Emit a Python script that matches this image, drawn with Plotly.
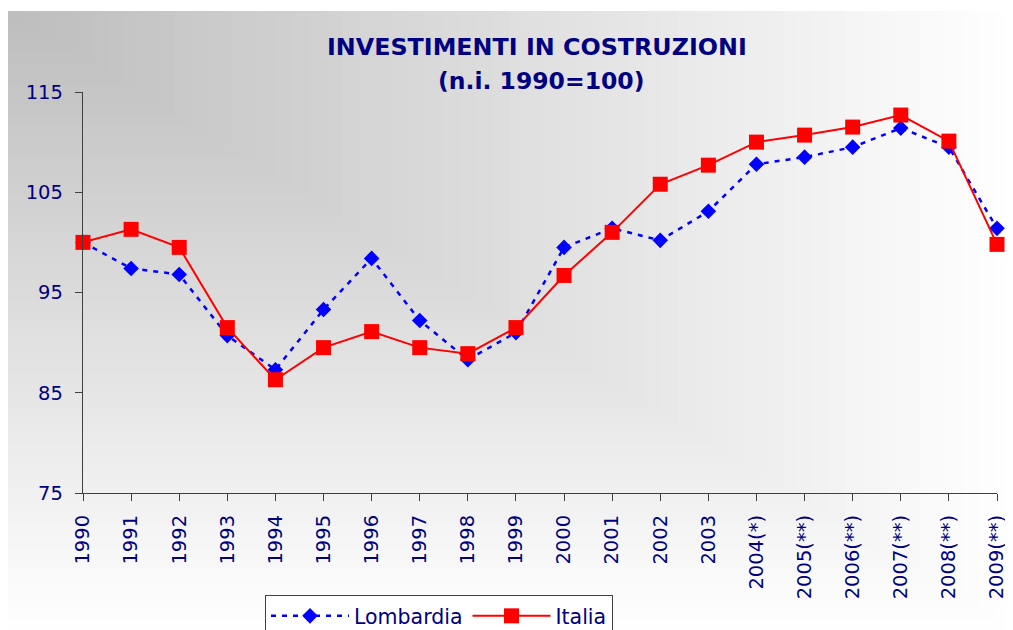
import plotly.graph_objects as go

years = ["1990", "1991", "1992", "1993", "1994", "1995", "1996", "1997", "1998", "1999",
         "2000", "2001", "2002", "2003", "2004(*)", "2005(**)", "2006(**)", "2007(**)",
         "2008(**)", "2009(**)"]
lombardia = [100.0, 97.4, 96.8, 90.7, 87.3, 93.3, 98.4, 92.2, 88.3, 91.0,
             99.5, 101.4, 100.2, 103.1, 107.8, 108.5, 109.5, 111.4, 109.5, 101.4]
italia = [100.0, 101.3, 99.5, 91.5, 86.3, 89.5, 91.1, 89.5, 88.9, 91.5,
          96.7, 101.0, 105.8, 107.7, 110.0, 110.7, 111.5, 112.7, 110.1, 99.8]
y_ticks = [75, 85, 95, 105, 115]

OFF = 8  # page body margin
W, H = 1013 - OFF, 630 - OFF
# plot area in page pixels: x 83..997, y 92..493
L, T = 83 - OFF, 92 - OFF
R = W - (997 - OFF)
B = H - (493 - OFF)
pw, ph = W - L - R, H - T - B
NAVY = "#000080"
FONT = "DejaVu Sans"


def px2x(px):
    return (px - OFF - L) / pw


def py2y(py):
    return (H - B - (py - OFF)) / ph


xs = list(range(len(years)))

fig = go.Figure()
fig.add_trace(go.Scatter(
    x=xs, y=lombardia, name="Lombardia", mode="lines+markers",
    line=dict(color="#0000ff", width=2.5, dash="5px,6px"),
    marker=dict(symbol="diamond", size=12, color="#0000ff"),
    cliponaxis=False,
))
fig.add_trace(go.Scatter(
    x=xs, y=italia, name="Italia", mode="lines+markers",
    line=dict(color="#ff0000", width=2),
    marker=dict(symbol="square", size=15, color="#ff0000"),
    cliponaxis=False,
))

# background gradient (darker in the top-left corner, fading to white)
shapes = []
x0p, y0p = 7, 11
bw, bh = 1013 - x0p, 630 - y0p
N = 60
dark, light = 189, 255
for i in range(N, 0, -1):
    t = i / N
    c = round(dark + (light - dark) * (t - 0.5 / N))
    shapes.append(dict(
        type="rect", xref="paper", yref="paper", layer="below",
        x0=px2x(x0p), y0=py2y(y0p),
        x1=px2x(x0p + t * bw), y1=py2y(y0p + t * bh),
        line=dict(width=0), fillcolor=f"rgb({c},{c},{c})",
    ))

fig.update_layout(
    width=W, height=H,
    margin=dict(l=L, r=R, t=T, b=B, autoexpand=False),
    paper_bgcolor="white", plot_bgcolor="rgba(0,0,0,0)",
    shapes=shapes,
    showlegend=True,
    legend=dict(
        orientation="h", x=px2x(265), y=py2y(595), xanchor="left", yanchor="top",
        bgcolor="white", bordercolor="#404040", borderwidth=1,
        font=dict(family=FONT, size=20.5, color=NAVY), itemwidth=78,
    ),
    annotations=[
        dict(text="<b>INVESTIMENTI IN COSTRUZIONI</b>", xref="paper", yref="paper",
             x=px2x(537), y=py2y(47), xanchor="center", yanchor="middle", showarrow=False,
             font=dict(family=FONT, size=23.8, color=NAVY)),
        dict(text="<b>(n.i. 1990=100)</b>", xref="paper", yref="paper",
             x=px2x(541), y=py2y(81), xanchor="center", yanchor="middle", showarrow=False,
             font=dict(family=FONT, size=23.5, color=NAVY)),
    ],
)
fig.update_xaxes(
    range=[0, len(years) - 1], tickmode="array", tickvals=xs, ticktext=years,
    tickangle=-90, showgrid=False, zeroline=False,
    showline=True, linecolor="#404040", linewidth=1.3,
    ticks="outside", ticklen=7, tickcolor="#404040", tickwidth=1.3,
    tickfont=dict(family=FONT, size=19.5, color=NAVY), ticklabelstandoff=6,
)
fig.update_yaxes(
    range=[75, 115], tickmode="array", tickvals=y_ticks,
    showgrid=False, zeroline=False,
    showline=True, linecolor="#404040", linewidth=1.3,
    ticks="outside", ticklen=7, tickcolor="#404040", tickwidth=1.3,
    tickfont=dict(family=FONT, size=19.5, color=NAVY), ticklabelstandoff=8,
)

fig.write_html("out.html")
